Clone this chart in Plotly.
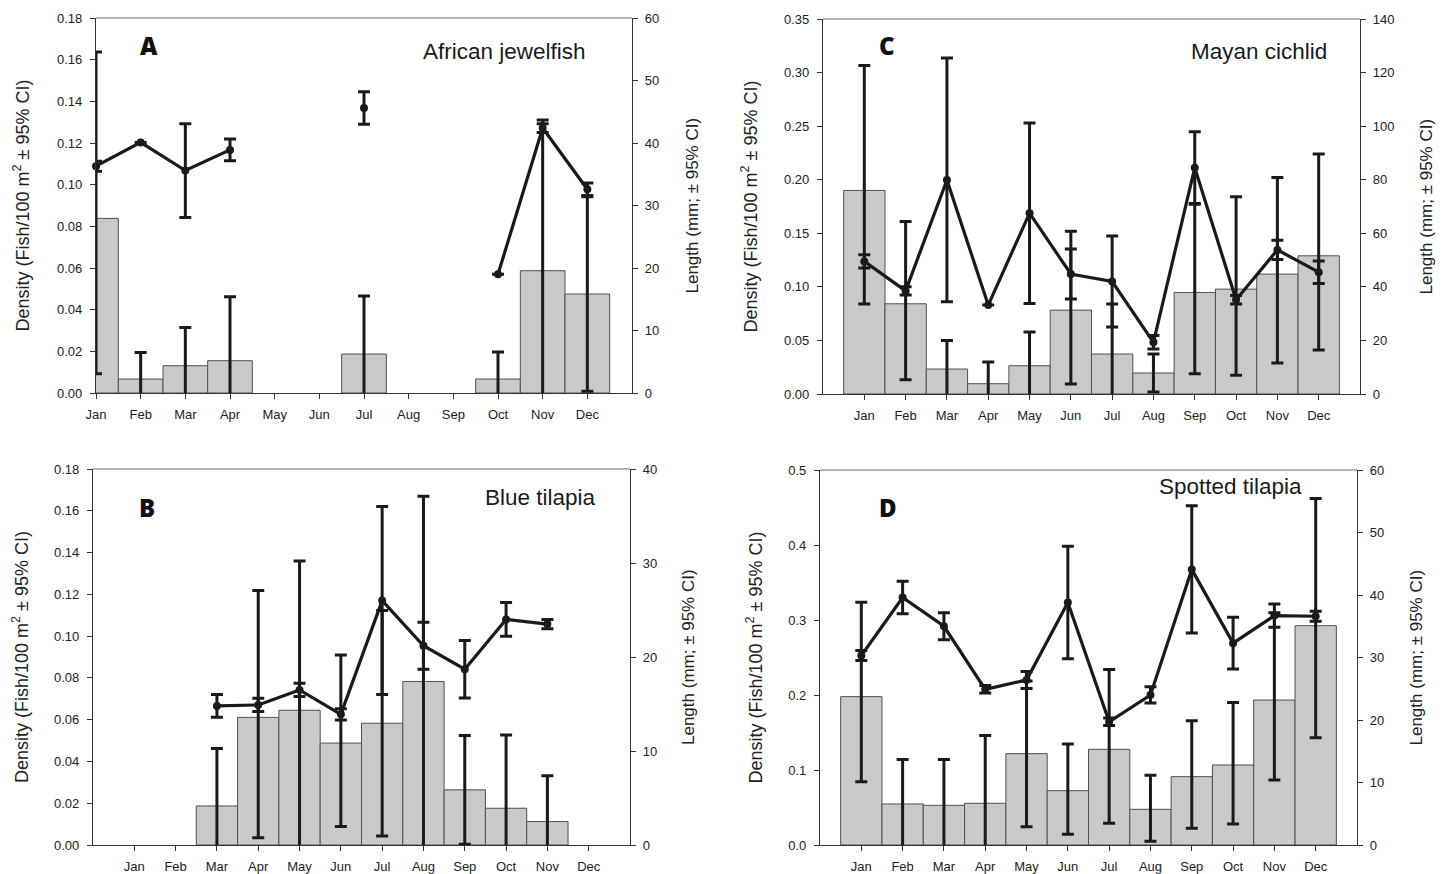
import plotly.graph_objects as go

# ---------------- data ----------------
months = ["Jan", "Feb", "Mar", "Apr", "May", "Jun", "Jul", "Aug", "Sep", "Oct", "Nov", "Dec"]
month_num = [1, 2, 3, 4, 5, 6, 7, 8, 9, 10, 11, 12]

# A  African jewelfish
jewel_density = [0.0838, 0.0067, 0.0131, 0.0155, 0, 0, 0.0187, 0, 0, 0.0067, 0.0587, 0.0475]
jewel_dens_hi = [0.0799, 0.0128, 0.0184, 0.0307, None, None, 0.0279, None, None, 0.0130, 0.0723, 0.0467]
jewel_dens_lo = [0.0745, 0.0128, 0.0184, 0.0307, None, None, 0.0279, None, None, 0.0130, 0.0723, 0.0467]
jewel_length = [36.3, 40.1, 35.6, 38.9, None, None, 45.6, None, None, 19.0, 42.4, 32.6]
jewel_len_err = [0.8, None, 7.5, 1.75, None, None, 2.6, None, None, None, 0.7, 1.0]

# B  Blue tilapia
blue_density = [0, 0, 0.0187, 0.0611, 0.0645, 0.0488, 0.0583, 0.0783, 0.0264, 0.0176, 0.0112, 0]
blue_dens_hi = [None, None, 0.0275, 0.0607, 0.0715, 0.0421, 0.054, 0.0886, 0.026, 0.0351, 0.022, None]
blue_dens_lo = [None, None, 0.0275, 0.0576, 0.0715, 0.0400, 0.054, 0.0886, 0.026, 0.0351, 0.022, None]
blue_length = [None, None, 14.8, 14.9, 16.5, 13.9, 26.0, 21.2, 18.7, 24.0, 23.5, None]
blue_len_err = [None, None, 1.2, 0.7, 0.7, 0.6, 10.0, 2.5, 3.05, 1.8, 0.5, None]

# C  Mayan cichlid
mayan_density = [0.190, 0.0842, 0.0233, 0.0096, 0.0264, 0.0783, 0.0373, 0.0196, 0.0948, 0.0979, 0.1119, 0.129]
mayan_dens_hi = [0.1166, 0.0768, 0.0267, 0.0202, 0.0314, 0.0737, 0.0466, 0.0177, 0.0822, 0.0861, 0.0901, 0.095]
mayan_dens_lo = [0.1061, 0.0708, 0.0267, 0.0202, 0.0314, 0.0690, 0.0466, 0.0177, 0.0758, 0.0805, 0.0830, 0.088]
mayan_length = [49.5, 38.5, 79.9, 33.2, 67.5, 44.8, 42.0, 19.3, 84.5, 35.2, 53.8, 45.5]
mayan_len_err = [2.5, 1.5, 45.5, None, 33.7, 9.3, 17.0, 2.5, 13.4, 1.6, 3.6, 4.2]

# D  Spotted tilapia
spot_density = [0.1978, 0.0547, 0.0529, 0.0556, 0.1218, 0.0724, 0.1276, 0.0476, 0.0911, 0.1067, 0.1933, 0.2924]
spot_dens_hi = [0.1258, 0.0593, 0.0611, 0.0904, 0.097, 0.0623, 0.1064, 0.0453, 0.0747, 0.0833, 0.1165, 0.1696]
spot_dens_lo = [0.1134, 0.0593, 0.0611, 0.0904, 0.0974, 0.0582, 0.0987, 0.0427, 0.0689, 0.0787, 0.1066, 0.1494]
spot_length = [30.3, 39.6, 35.0, 24.9, 26.4, 38.8, 19.7, 24.0, 44.1, 32.3, 36.7, 36.6]
spot_len_err = [0.8, 2.6, 2.15, 0.6, 1.35, 9.0, 0.6, 1.3, 10.2, 4.15, 1.85, 0.8]

# axis tick labels
jewel_dens_ticks = [0, 0.02, 0.04, 0.06, 0.08, 0.10, 0.12, 0.14, 0.16, 0.18]
jewel_len_ticks = [0, 10, 20, 30, 40, 50, 60]
blue_dens_ticks = [0, 0.02, 0.04, 0.06, 0.08, 0.10, 0.12, 0.14, 0.16, 0.18]
blue_len_ticks = [0, 10, 20, 30, 40]
mayan_dens_ticks = [0, 0.05, 0.10, 0.15, 0.20, 0.25, 0.30, 0.35]
mayan_len_ticks = [0, 20, 40, 60, 80, 100, 120, 140]
spot_dens_ticks = [0, 0.1, 0.2, 0.3, 0.4, 0.5]
spot_len_ticks = [0, 10, 20, 30, 40, 50, 60]

# ---------------- styling / layout ----------------
# the page body adds an 8 px margin; the figure is shifted by 8 px so that
# reference pixel positions line up, and it reaches the window's right/bottom edges
OFF = 8
W, H = 1444 - OFF, 874 - OFF
def px(x):
    return (x - OFF) / W
def py(y):
    return 1 - (y - OFF) / H

FONT = "Liberation Sans, Arial, sans-serif"
TXT = "#222222"
AX = "#333333"
FRAME_TOP = "#6e6e6e"
INK = "#1a1a1a"
BAR_FILL = "#c8c9cb"
BAR_EDGE = "#505050"

panels = [
    dict(letter="A", name="African jewelfish", dens=jewel_density, dhi=jewel_dens_hi, dlo=jewel_dens_lo,
         length=jewel_length, lerr=jewel_len_err, dticks=jewel_dens_ticks, lticks=jewel_len_ticks,
         dfmt=".2f", xr=[1, 13], box=(96, 632, 18, 393),
         letter_xy=(149, 45), name_xy=(588, 51), ltitle_x=22, rtitle_x=692),
    dict(letter="B", name="Blue tilapia", dens=blue_density, dhi=blue_dens_hi, dlo=blue_dens_lo,
         length=blue_length, lerr=blue_len_err, dticks=blue_dens_ticks, lticks=blue_len_ticks,
         dfmt=".2f", xr=[0, 13], box=(93, 630, 469, 845),
         letter_xy=(147, 508), name_xy=(598, 497), ltitle_x=20, rtitle_x=688),
    dict(letter="C", name="Mayan cichlid", dens=mayan_density, dhi=mayan_dens_hi, dlo=mayan_dens_lo,
         length=mayan_length, lerr=mayan_len_err, dticks=mayan_dens_ticks, lticks=mayan_len_ticks,
         dfmt=".2f", xr=[0, 13], box=(823, 1360, 19, 394),
         letter_xy=(887, 45), name_xy=(1329, 52), ltitle_x=750, rtitle_x=1426),
    dict(letter="D", name="Spotted tilapia", dens=spot_density, dhi=spot_dens_hi, dlo=spot_dens_lo,
         length=spot_length, lerr=spot_len_err, dticks=spot_dens_ticks, lticks=spot_len_ticks,
         dfmt=".1f", xr=[0, 13], box=(820, 1357, 470, 845),
         letter_xy=(888, 508), name_xy=(1304, 486), ltitle_x=755, rtitle_x=1416),
]

fig = go.Figure()
layout = dict(template="none", width=W, height=H, margin=dict(l=0, r=0, t=0, b=0, pad=0),
              autosize=False,
              paper_bgcolor="white", plot_bgcolor="white", showlegend=False,
              font=dict(family=FONT, color=TXT, size=13))
annotations = []
shapes = []

for i, p in enumerate(panels):
    k = i + 1
    xname = "x" if k == 1 else f"x{k}"
    yl = 2 * i + 1
    yr = 2 * i + 2
    ylname = "y" if yl == 1 else f"y{yl}"
    yrname = f"y{yr}"
    x0, x1, ytop, ybot = p["box"]

    # months with zero density have no visible bar (and no error bar)
    bar_y = [d if (d is not None and d > 0) else None for d in p["dens"]]
    fig.add_trace(go.Bar(
        x=month_num, y=bar_y, width=1.0, xaxis=xname, yaxis=ylname,
        marker=dict(color=BAR_FILL, line=dict(color=BAR_EDGE, width=1)),
        error_y=dict(type="data", symmetric=False, array=p["dhi"], arrayminus=p["dlo"],
                     color=INK, thickness=3, width=6),
    ))
    fig.add_trace(go.Scatter(
        x=month_num, y=p["length"], xaxis=xname, yaxis=yrname, mode="lines+markers",
        connectgaps=False, cliponaxis=False,
        line=dict(color=INK, width=3.2),
        marker=dict(color=INK, size=8),
        error_y=dict(type="data", array=p["lerr"], color=INK, thickness=3, width=6),
    ))

    xkey = "xaxis" if k == 1 else f"xaxis{k}"
    layout[xkey] = dict(
        domain=[px(x0), px(x1)], anchor=ylname, range=p["xr"], automargin=False,
        tickmode="array", tickvals=month_num, ticktext=months,
        ticks="outside", ticklen=5, tickwidth=1, tickcolor=AX,
        showline=True, linecolor=AX, linewidth=1.2,
        showgrid=False, zeroline=False, ticklabelstandoff=4,
        tickfont=dict(family=FONT, size=13, color=TXT),
    )
    ylkey = "yaxis" if yl == 1 else f"yaxis{yl}"
    layout[ylkey] = dict(
        domain=[py(ybot), py(ytop)], anchor=xname, range=[0, p["dticks"][-1]], automargin=False,
        tickmode="array", tickvals=p["dticks"], tickformat=p["dfmt"],
        ticks="outside", ticklen=5, tickwidth=1, tickcolor=AX,
        showline=True, linecolor=AX, linewidth=1.2,
        showgrid=False, zeroline=False, ticklabelstandoff=5,
        tickfont=dict(family=FONT, size=13, color=TXT),
    )
    layout[f"yaxis{yr}"] = dict(
        overlaying=ylname, side="right", anchor=xname, range=[0, p["lticks"][-1]], automargin=False,
        tickmode="array", tickvals=p["lticks"],
        ticks="outside", ticklen=5, tickwidth=1, tickcolor=AX,
        showline=True, linecolor=AX, linewidth=1.2,
        showgrid=False, zeroline=False, ticklabelstandoff=4,
        tickfont=dict(family=FONT, size=13, color=TXT),
    )

    # lighter top edge of the frame
    shapes.append(dict(type="line", xref="paper", yref="paper",
                       x0=px(x0), x1=px(x1), y0=py(ytop), y1=py(ytop),
                       line=dict(color=FRAME_TOP, width=1.2)))

    ymid = (ytop + ybot) / 2
    annotations += [
        dict(text=p["letter"], x=px(p["letter_xy"][0]), y=py(p["letter_xy"][1]),
             xref="paper", yref="paper", showarrow=False, xanchor="center", yanchor="middle",
             font=dict(family="Open Sans, DejaVu Sans, sans-serif", size=24, color="#111111", weight=800)),
        dict(text=p["name"], x=px(p["name_xy"][0]), y=py(p["name_xy"][1]),
             xref="paper", yref="paper", showarrow=False, xanchor="right", yanchor="middle",
             font=dict(family=FONT, size=22.5, color="#1a1a1a")),
        dict(text="Density (Fish/100 m<sup>2</sup> ± 95% CI)", x=px(p["ltitle_x"]), y=py(ymid),
             xref="paper", yref="paper", showarrow=False, textangle=-90,
             xanchor="center", yanchor="middle", font=dict(family=FONT, size=18, color=TXT)),
        dict(text="Length (mm; ± 95% CI)", x=px(p["rtitle_x"]), y=py(ymid),
             xref="paper", yref="paper", showarrow=False, textangle=-90,
             xanchor="center", yanchor="middle", font=dict(family=FONT, size=17, color=TXT)),
    ]

layout["annotations"] = annotations
layout["shapes"] = shapes
fig.update_layout(**layout)
fig.write_html("out.html")
